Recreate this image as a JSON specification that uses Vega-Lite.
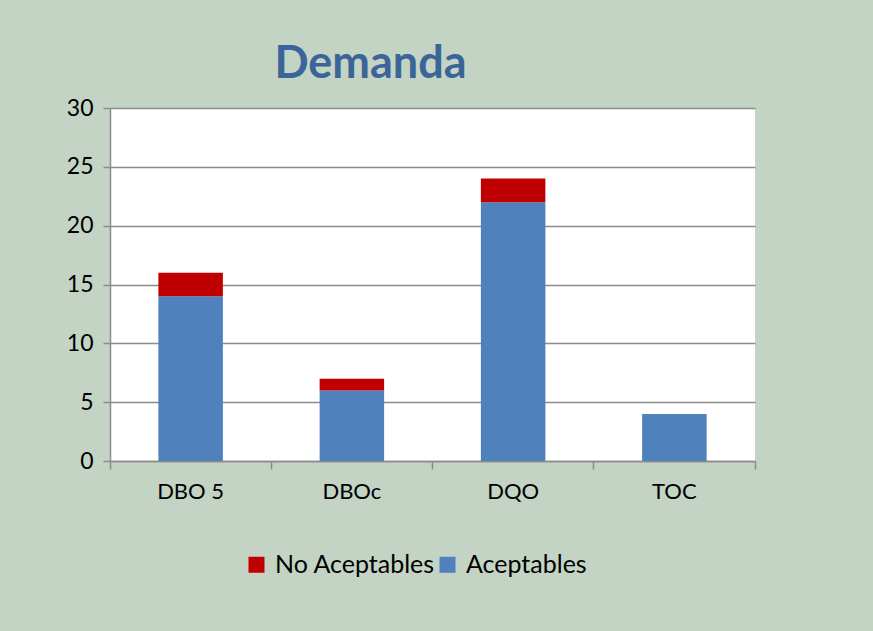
{
  "$schema": "https://vega.github.io/schema/vega-lite/v6.json",
  "width": 645,
  "height": 353,
  "autosize": {"type": "none"},
  "padding": {"left": 110, "top": 108, "right": 118, "bottom": 170},
  "background": "#c3d3c4",
  "title": {
    "text": "Demanda",
    "font": "Lato",
    "fontSize": 45,
    "fontWeight": "bold",
    "color": "#3B6598",
    "anchor": "middle",
    "frame": "group",
    "dx": -62,
    "dy": 52,
    "offset": 26,
    "baseline": "alphabetic"
  },
  "data": {
    "values": [
      {"parametro": "DBO 5", "serie": "Aceptables", "valor": 14},
      {"parametro": "DBO 5", "serie": "No Aceptables", "valor": 2},
      {"parametro": "DBOc", "serie": "Aceptables", "valor": 6},
      {"parametro": "DBOc", "serie": "No Aceptables", "valor": 1},
      {"parametro": "DQO", "serie": "Aceptables", "valor": 22},
      {"parametro": "DQO", "serie": "No Aceptables", "valor": 2},
      {"parametro": "TOC", "serie": "Aceptables", "valor": 4},
      {"parametro": "TOC", "serie": "No Aceptables", "valor": 0}
    ]
  },
  "mark": {"type": "bar", "width": {"band": 0.4}},
  "encoding": {
    "x": {
      "field": "parametro",
      "type": "nominal",
      "sort": ["DBO 5", "DBOc", "DQO", "TOC"],
      "scale": {"paddingInner": 0, "paddingOuter": 0},
      "axis": {
        "title": null,
        "labelAngle": 0,
        "bandPosition": 1,
        "tickExtra": true,
        "tickSize": 8,
        "tickColor": "#8c8c8c",
        "tickWidth": 1.5,
        "domainColor": "#8c8c8c",
        "domainWidth": 1.5,
        "labelFont": "Lato",
        "labelFontSize": 22,
        "labelColor": "#000000",
        "labelPadding": 12,
        "grid": false
      }
    },
    "y": {
      "field": "valor",
      "type": "quantitative",
      "stack": "zero",
      "scale": {"domain": [0, 30]},
      "axis": {
        "title": null,
        "values": [0, 5, 10, 15, 20, 25, 30],
        "tickSize": 7,
        "tickColor": "#8c8c8c",
        "tickWidth": 1.5,
        "domainColor": "#8c8c8c",
        "domainWidth": 1.5,
        "gridColor": "#8c8c8c",
        "gridWidth": 1.5,
        "labelFont": "Lato",
        "labelFontSize": 23,
        "labelColor": "#000000",
        "labelPadding": 10
      }
    },
    "color": {
      "field": "serie",
      "type": "nominal",
      "scale": {"domain": ["No Aceptables", "Aceptables"], "range": ["#C00000", "#4F81BD"]},
      "legend": {
        "title": null,
        "orient": "none",
        "legendX": 134,
        "legendY": 444,
        "direction": "horizontal",
        "symbolType": "square",
        "symbolSize": 256,
        "symbolStrokeWidth": 0,
        "symbolOpacity": 1,
        "labelFont": "Lato",
        "labelFontSize": 25,
        "labelColor": "#000000",
        "labelOffset": 6,
        "columnPadding": 0
      }
    },
    "order": {"field": "serie", "sort": "ascending"}
  },
  "config": {"view": {"fill": "#ffffff", "stroke": null}}
}
